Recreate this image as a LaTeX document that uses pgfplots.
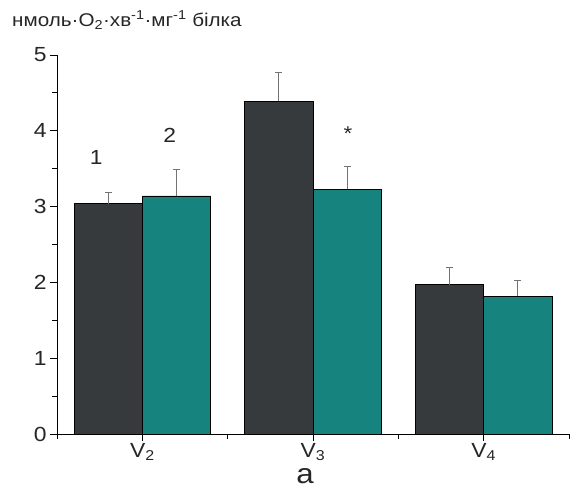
\documentclass[border=0pt]{standalone}
\usepackage{fontspec}
\setmainfont[FakeStretch=1.12]{Liberation Sans}
\usepackage{pgfplots}
\pgfplotsset{compat=1.18}
\definecolor{barDark}{RGB}{55,58,61}
\definecolor{barTeal}{RGB}{22,131,127}
\definecolor{errGray}{RGB}{115,115,115}

% mean and upper deviation for each group
\pgfplotstableread{
x y err
0 3.04 0.15
1 4.39 0.38
2 1.97 0.23
}\groupone
\pgfplotstableread{
x y err
0 3.14 0.35
1 3.23 0.30
2 1.82 0.20
}\grouptwo

\begin{document}
\begin{tikzpicture}[x=1bp,y=1bp]
\useasboundingbox (0,0) rectangle (571,492);
\begin{axis}[
  at={(57bp,58bp)}, anchor=south west,
  scale only axis, width=512bp, height=379bp,
  xmin=-0.5, xmax=2.5, ymin=0, ymax=5,
  axis x line*=bottom, axis y line*=left,
  axis line style={-, line width=0.9bp},
  ybar, bar width=0.4,
  xtick={0,1,2},
  xticklabels={V\textsubscript{2},V\textsubscript{3},V\textsubscript{4}},
  minor xtick={-0.5,0.5,1.5,2.5},
  ytick={0,1,2,3,4,5},
  minor ytick={0.5,1.5,2.5,3.5,4.5},
  tick align=outside,
  major tick length=7bp, minor tick length=5bp,
  every tick/.style={black, line width=0.8bp},
  tick label style={font=\fontsize{20.5}{22}\selectfont, text=black!85},
  xticklabel style={inner sep=2bp},
  /pgf/number format/assume math mode=true,
  xlabel={a},
  xlabel style={font=\fontsize{28}{29}\selectfont, text=black!85, yshift=-6bp, xshift=-8bp, inner sep=0pt},
  clip=false,
]
\addplot[fill=barDark, draw=black, line width=0.8bp, bar shift=-0.2,
  error bars/.cd, y dir=plus, y explicit,
  error bar style={errGray, line width=0.9bp},
  error mark options={rotate=90, errGray, mark size=3.5bp, line width=0.9bp}]
  table[x=x, y=y, y error=err]{\groupone};
\addplot[fill=barTeal, draw=black, line width=0.8bp, bar shift=0.2,
  error bars/.cd, y dir=plus, y explicit,
  error bar style={errGray, line width=0.9bp},
  error mark options={rotate=90, errGray, mark size=3.5bp, line width=0.9bp}]
  table[x=x, y=y, y error=err]{\grouptwo};
\node[font=\fontsize{20.5}{22}\selectfont, text=black!85] at (axis cs:-0.27,3.65) {1};
\node[font=\fontsize{20.5}{22}\selectfont, text=black!85] at (axis cs:0.16,3.94) {2};
\node[font=\fontsize{20}{20}\selectfont, text=black!85] at (axis cs:1.205,3.96) {*};
\end{axis}
\node[anchor=west, inner sep=0pt, font=\fontsize{18.5}{20}\selectfont, text=black!85]
  at (12bp,472bp) {нмоль·O\textsubscript{2}·хв\textsuperscript{-1}·мг\textsuperscript{-1} білка};
\end{tikzpicture}
\end{document}
